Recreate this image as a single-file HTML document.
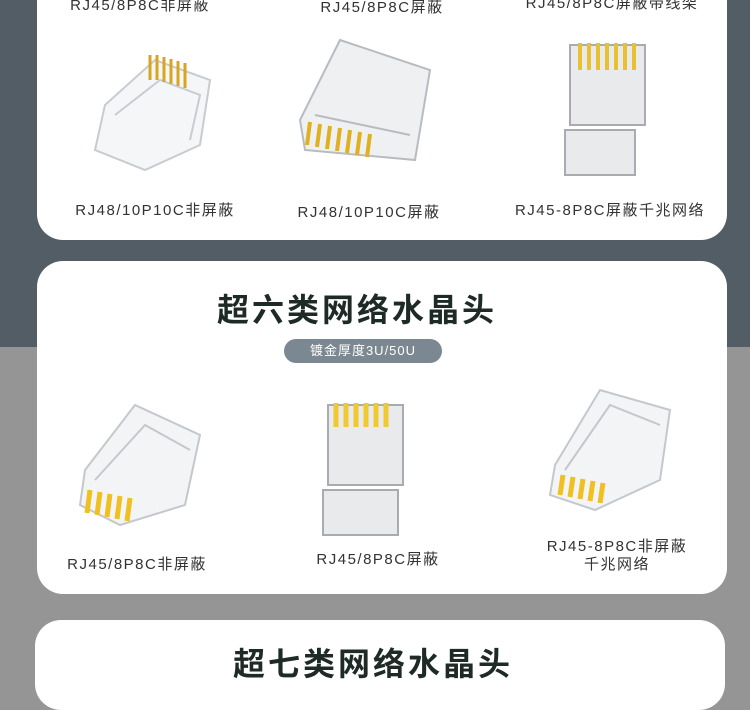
<!DOCTYPE html>
<html><head><meta charset="utf-8"><style>
body{margin:0;width:750px;height:676px;overflow:hidden;position:relative;background:#959595;font-family:"Liberation Sans","Noto Sans CJK SC",sans-serif}
.top{position:absolute;left:0;top:0;width:750px;height:347px;background:#525d65}
.card{position:absolute;background:#fff;border-radius:26px}
.t{position:absolute;transform:translateX(-50%);white-space:nowrap;color:#333;font-size:15px;letter-spacing:1.5px}
.h{position:absolute;transform:translateX(-50%);white-space:nowrap;color:#1e2a26;font-size:32px;font-weight:bold;letter-spacing:3px}
svg{position:absolute}
</style></head><body>
<div class="top"></div>
<div class="card" style="left:37px;top:-30px;width:690px;height:270px"></div>
<div class="card" style="left:37px;top:261px;width:690px;height:333px"></div>
<div class="card" style="left:35px;top:620px;width:690px;height:90px"></div>

<div class="t" style="left:140px;top:-6px">RJ45/8P8C非屏蔽</div>
<div class="t" style="left:382px;top:-4px">RJ45/8P8C屏蔽</div>
<div class="t" style="left:612px;top:-8px">RJ45/8P8C屏蔽带线架</div>

<svg style="left:85px;top:45px" width="130" height="130"><g fill="#f4f6f8" stroke="#c8ccd0" stroke-width="2"><path d="M20 60 L70 15 L125 35 L115 100 L60 125 L10 105Z"/><path d="M30 70 L75 35 L115 50 L105 95"/></g><g stroke="#d9a520" stroke-width="3"><line x1="65" y1="10" x2="65" y2="35"/><line x1="72" y1="10" x2="72" y2="35"/><line x1="79" y1="12" x2="79" y2="37"/><line x1="86" y1="14" x2="86" y2="39"/><line x1="93" y1="16" x2="93" y2="41"/><line x1="100" y1="18" x2="100" y2="43"/></g></svg>
<svg style="left:295px;top:30px" width="140" height="150"><g fill="#eef0f2" stroke="#b8bcc0" stroke-width="2"><path d="M45 10 L135 40 L120 130 L10 120 L5 90Z"/><path d="M20 85 L115 105"/></g><g stroke="#e0b020" stroke-width="4"><line x1="15" y1="92" x2="12" y2="115"/><line x1="25" y1="94" x2="22" y2="117"/><line x1="35" y1="96" x2="32" y2="119"/><line x1="45" y1="98" x2="42" y2="121"/><line x1="55" y1="100" x2="52" y2="123"/><line x1="65" y1="102" x2="62" y2="125"/><line x1="75" y1="104" x2="72" y2="127"/></g></svg>
<svg style="left:560px;top:35px" width="100" height="145"><g fill="#e8eaec" stroke="#a8acb0" stroke-width="2"><rect x="10" y="10" width="75" height="80"/><rect x="5" y="95" width="70" height="45"/></g><g stroke="#e8c030" stroke-width="4"><line x1="20" y1="8" x2="20" y2="35"/><line x1="29" y1="8" x2="29" y2="35"/><line x1="38" y1="8" x2="38" y2="35"/><line x1="47" y1="8" x2="47" y2="35"/><line x1="56" y1="8" x2="56" y2="35"/><line x1="65" y1="8" x2="65" y2="35"/><line x1="74" y1="8" x2="74" y2="35"/></g></svg>

<div class="t" style="left:155px;top:199px">RJ48/10P10C非屏蔽</div>
<div class="t" style="left:369px;top:201px">RJ48/10P10C屏蔽</div>
<div class="t" style="left:610px;top:199px">RJ45-8P8C屏蔽千兆网络</div>

<div class="h" style="left:357px;top:285px">超六类网络水晶头</div>
<div style="position:absolute;left:284px;top:339px;width:158px;height:24px;border-radius:12px;background:#7c8891;color:#fff;font-size:13px;line-height:24px;text-align:center;letter-spacing:1px">镀金厚度3U/50U</div>

<svg style="left:75px;top:395px" width="130" height="135"><g fill="#f2f4f6" stroke="#c4c8cc" stroke-width="2"><path d="M10 75 L60 10 L125 40 L110 110 L45 130 L5 110Z"/><path d="M20 85 L70 30 L115 55"/></g><g stroke="#f0c020" stroke-width="5"><line x1="15" y1="95" x2="12" y2="118"/><line x1="25" y1="97" x2="22" y2="120"/><line x1="35" y1="99" x2="32" y2="122"/><line x1="45" y1="101" x2="42" y2="124"/><line x1="55" y1="103" x2="52" y2="126"/></g></svg>
<svg style="left:318px;top:395px" width="100" height="145"><g fill="#e8eaec" stroke="#a8acb0" stroke-width="2"><rect x="10" y="10" width="75" height="80"/><rect x="5" y="95" width="75" height="45"/></g><g stroke="#f0c830" stroke-width="5"><line x1="18" y1="8" x2="18" y2="32"/><line x1="28" y1="8" x2="28" y2="32"/><line x1="38" y1="8" x2="38" y2="32"/><line x1="48" y1="8" x2="48" y2="32"/><line x1="58" y1="8" x2="58" y2="32"/><line x1="68" y1="8" x2="68" y2="32"/></g></svg>
<svg style="left:545px;top:380px" width="130" height="135"><g fill="#f2f4f6" stroke="#c4c8cc" stroke-width="2"><path d="M10 85 L55 10 L125 30 L115 100 L50 130 L5 115Z"/><path d="M20 90 L65 25 L115 45"/></g><g stroke="#f0c020" stroke-width="5"><line x1="18" y1="95" x2="15" y2="115"/><line x1="28" y1="97" x2="25" y2="117"/><line x1="38" y1="99" x2="35" y2="119"/><line x1="48" y1="101" x2="45" y2="121"/><line x1="58" y1="103" x2="55" y2="123"/></g></svg>

<div class="t" style="left:137px;top:553px">RJ45/8P8C非屏蔽</div>
<div class="t" style="left:378px;top:548px">RJ45/8P8C屏蔽</div>
<div class="t" style="left:617px;top:535px">RJ45-8P8C非屏蔽</div>
<div class="t" style="left:617px;top:553px">千兆网络</div>

<div class="h" style="left:373px;top:639px">超七类网络水晶头</div>
</body></html>
